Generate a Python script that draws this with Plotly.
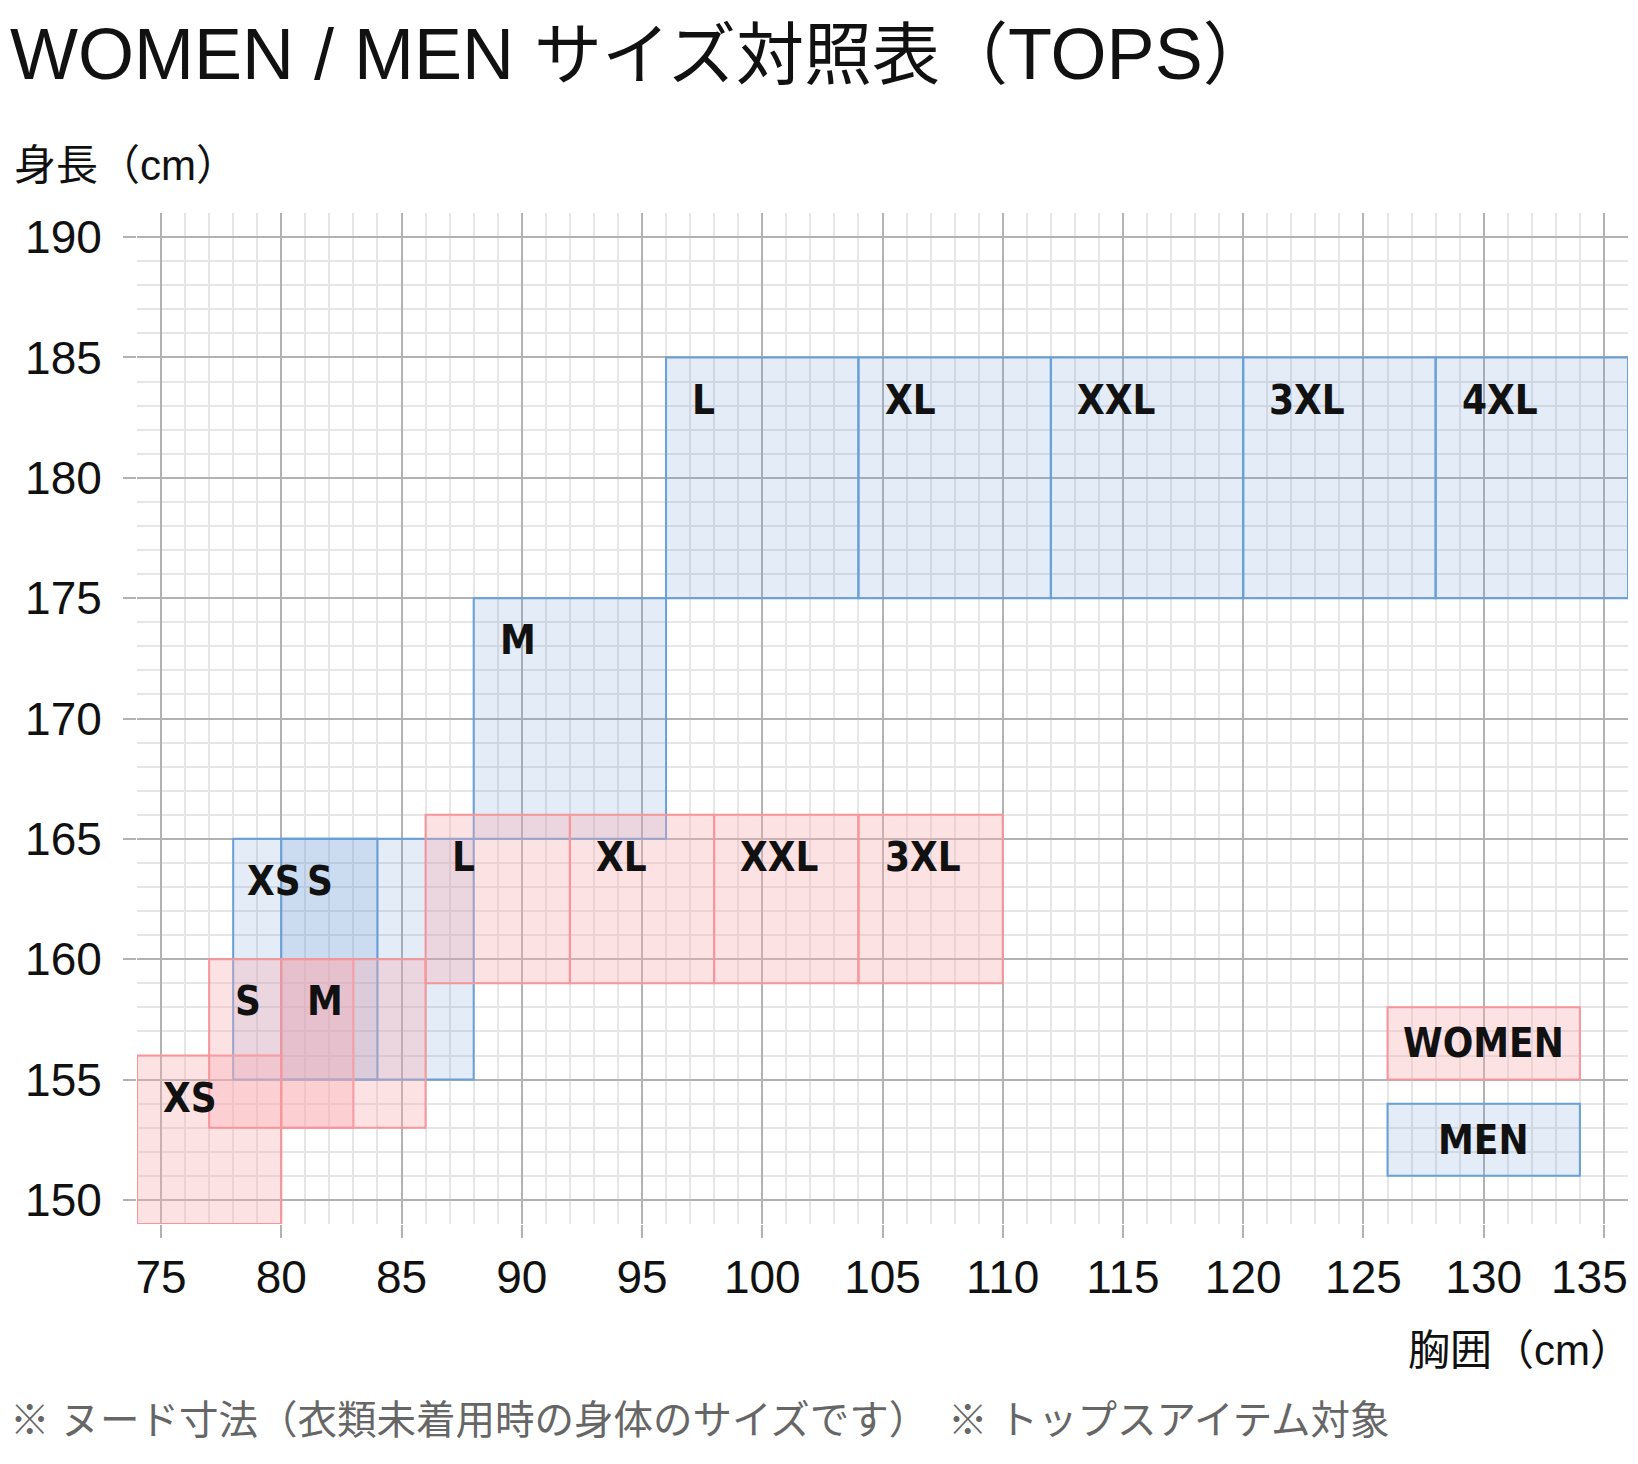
import plotly.graph_objects as go

# ---- data ----
women_sizes = ["XS", "S", "M", "L", "XL", "XXL", "3XL"]
women_chest_min = [74, 77, 80, 86, 92, 98, 104]
women_chest_max = [80, 83, 86, 92, 98, 104, 110]
women_height_min = [149, 153, 153, 159, 159, 159, 159]
women_height_max = [156, 160, 160, 166, 166, 166, 166]
women_label_offset = [1, 1, 1, 1, 1, 1, 1]

men_sizes = ["XS", "S", "M", "L", "XL", "XXL", "3XL", "4XL"]
men_chest_min = [78, 80, 88, 96, 104, 112, 120, 128]
men_chest_max = [84, 88, 96, 104, 112, 120, 128, 136]
men_height_min = [155, 155, 165, 175, 175, 175, 175, 175]
men_height_max = [165, 165, 175, 185, 185, 185, 185, 185]
men_label_offset = [0.5, 1, 1, 1, 1, 1, 1, 1]

legend_names = ["WOMEN", "MEN"]
legend_chest = [[126, 134], [126, 134]]
legend_height = [[155, 158], [151, 154]]

x_ticks = [75, 80, 85, 90, 95, 100, 105, 110, 115, 120, 125, 130, 135]
y_ticks = [150, 155, 160, 165, 170, 175, 180, 185, 190]
x_range = [74, 136]
y_range = [149, 191]

title_text = ("WOMEN / MEN <span style='font-size:68px'>サイズ対照表（</span>"
              "TOPS<span style='font-size:68px'>）</span>")
y_title = "身長（cm）"
x_title = "胸囲（cm）"
footnote = "※ ヌード寸法（衣類未着用時の身体のサイズです）　※ トップスアイテム対象"

# ---- styles ----
PINK_FILL = "rgba(250,172,178,0.35)"
PINK_LINE = "rgba(246,150,155,1)"
BLUE_FILL = "rgba(100,150,210,0.18)"
BLUE_LINE = "rgba(104,160,218,1)"
MAJOR = "#b2b2b2"
MINOR = "#e6e6e6"
BASE_FONT = "Liberation Sans, Noto Sans CJK JP, sans-serif"
LABEL_FONT = "DejaVu Sans Condensed, sans-serif"
LABEL_SIZE = 40
TICK_FONT = dict(family=BASE_FONT, size=46, color="#111")

fig = go.Figure()
# invisible trace to establish axes
fig.add_trace(go.Scatter(x=x_range, y=y_range, mode="markers",
                         marker=dict(opacity=0), hoverinfo="skip", showlegend=False))

shapes = []
annotations = []

def add_boxes(sizes, x0s, x1s, y0s, y1s, offs, fill, line):
    for s, a, b, c, d, o in zip(sizes, x0s, x1s, y0s, y1s, offs):
        shapes.append(dict(type="rect", xref="x", yref="y", x0=a, x1=b, y0=c, y1=d,
                           fillcolor=fill, line=dict(color=line, width=2), layer="above"))
        annotations.append(dict(x=a + o, y=d - 1.75, xref="x", yref="y", text=s,
                                showarrow=False, xanchor="left", yanchor="middle",
                                font=dict(family=LABEL_FONT, size=LABEL_SIZE, color="#111",
                                          weight="bold")))

add_boxes(men_sizes, men_chest_min, men_chest_max, men_height_min, men_height_max,
          men_label_offset, BLUE_FILL, BLUE_LINE)
add_boxes(women_sizes, women_chest_min, women_chest_max, women_height_min, women_height_max,
          women_label_offset, PINK_FILL, PINK_LINE)

for name, cx, hy, fill, line in zip(legend_names, legend_chest, legend_height,
                                    [PINK_FILL, BLUE_FILL], [PINK_LINE, BLUE_LINE]):
    shapes.append(dict(type="rect", xref="x", yref="y", x0=cx[0], x1=cx[1], y0=hy[0], y1=hy[1],
                       fillcolor=fill, line=dict(color=line, width=2), layer="above"))
    annotations.append(dict(x=(cx[0] + cx[1]) / 2, y=(hy[0] + hy[1]) / 2, xref="x", yref="y",
                            text=name, showarrow=False, xanchor="center", yanchor="middle",
                            font=dict(family=LABEL_FONT, size=LABEL_SIZE, color="#111",
                                      weight="bold")))

# axis titles and footnote
annotations.append(dict(x=(12 - 137) / 1491, y=(1224 - 166) / 1011, xref="paper", yref="paper",
                        text=y_title, showarrow=False, xanchor="left", yanchor="middle",
                        font=dict(family=BASE_FONT, size=42, color="#111")))
annotations.append(dict(x=(1634 - 137) / 1491, y=(1224 - 1350) / 1011, xref="paper", yref="paper",
                        text=x_title, showarrow=False, xanchor="right", yanchor="middle",
                        font=dict(family=BASE_FONT, size=42, color="#111")))
annotations.append(dict(x=(8 - 137) / 1491, y=(1224 - 1420) / 1011, xref="paper", yref="paper",
                        text=footnote, showarrow=False, xanchor="left", yanchor="middle",
                        font=dict(family=BASE_FONT, size=39.5, color="#666")))

# last x tick label is nudged left so it stays inside the canvas
x_ticktext = [str(v) for v in x_ticks]
last_label = x_ticktext[-1]
x_ticktext[-1] = ""
annotations.append(dict(x=x_ticks[-1], xref="x", y=(1224 - 1277) / 1011, yref="paper",
                        text=last_label, showarrow=False, xanchor="center", yanchor="middle",
                        xshift=-14, font=TICK_FONT))

axis_common = dict(
    showgrid=True, gridcolor=MAJOR, gridwidth=2,
    zeroline=False, showline=False, automargin=False,
    ticks="outside", ticklen=13, tickwidth=2, tickcolor=MAJOR,
    tickfont=TICK_FONT,
    fixedrange=True,
)

fig.update_layout(
    width=1638, height=1464,
    margin=dict(l=137, r=10, t=213, b=240, autoexpand=False),
    paper_bgcolor="white", plot_bgcolor="white",
    title=dict(text=title_text, x=10 / 1638, xanchor="left", xref="container",
               y=1 - 54 / 1464, yanchor="middle", yref="container",
               font=dict(family=BASE_FONT, size=72, color="#111")),
    xaxis=dict(range=x_range, tickvals=x_ticks, ticktext=x_ticktext,
               minor=dict(dtick=1, showgrid=True, gridcolor=MINOR, gridwidth=2, ticks=""),
               ticklabelstandoff=0, **axis_common),
    yaxis=dict(range=y_range, tickvals=y_ticks,
               minor=dict(dtick=1, showgrid=True, gridcolor=MINOR, gridwidth=2, ticks=""),
               ticklabelstandoff=12, **axis_common),
    shapes=shapes,
    annotations=annotations,
    showlegend=False,
)

fig.write_html("out.html")
